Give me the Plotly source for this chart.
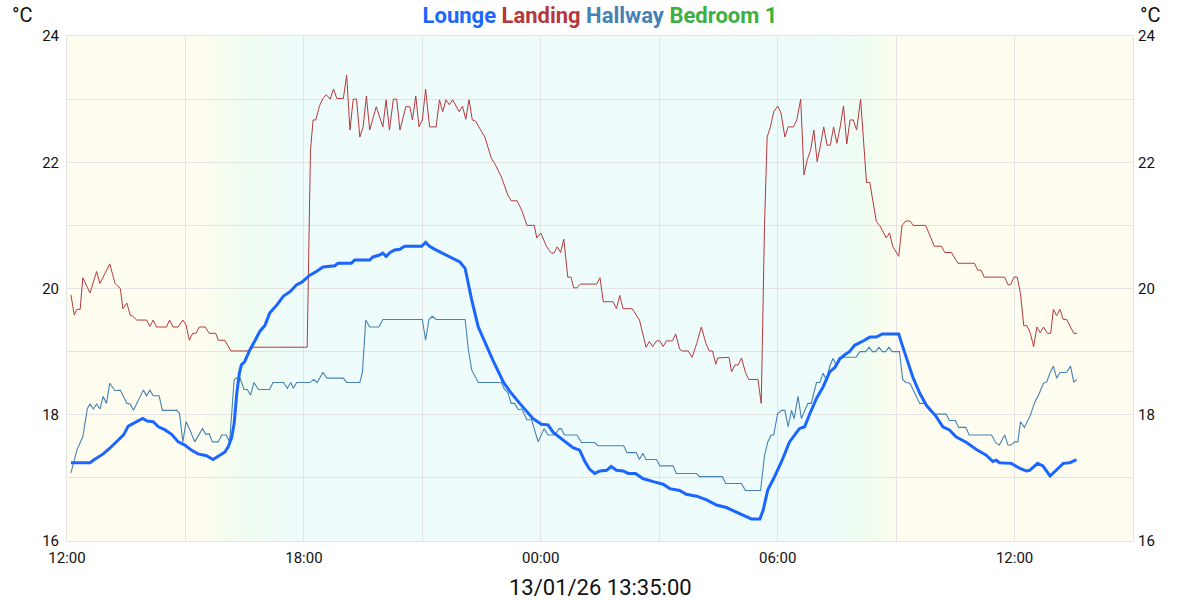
import pandas as pd
import plotly.graph_objects as go

START = pd.Timestamp("2026-01-12 12:00")

# minutes elapsed since START, and temperatures (°C)
landing_min = [6, 11, 15, 20, 24, 35, 45, 50, 65, 73, 81, 85, 91, 96, 100, 106, 121, 126, 131, 136, 151, 156, 161, 169, 176, 181, 186, 191, 196, 201, 210, 216, 226, 230, 240, 249, 278, 283, 365,
               370, 374, 378, 384, 389, 394, 400, 405, 410, 420, 425, 430, 435, 440, 445, 450, 455, 460, 470, 480, 485, 490, 496, 501, 506, 515, 521, 525, 530, 535, 540, 545, 551, 561, 566, 571, 576, 581, 586, 596, 601, 606, 611, 616, 621, 627, 635, 645, 650, 660, 670, 675, 684, 691, 699, 710, 714, 720, 729, 736, 740, 745, 750, 755, 761, 766, 770, 775, 780, 805, 810, 815, 830, 835, 840, 845, 859, 870, 880, 885, 890, 896, 901, 906, 911, 920, 925, 931, 935, 944, 950, 957, 964, 971, 976, 981, 986, 989, 1000, 1006, 1010, 1015, 1020, 1025, 1031, 1036, 1050, 1055,
               1060, 1064, 1069, 1074, 1080, 1085, 1091, 1096, 1104, 1109, 1115, 1120, 1125, 1130, 1135, 1140, 1145, 1150, 1155, 1160, 1165, 1170, 1175, 1180, 1185, 1190, 1195, 1200, 1206, 1215, 1220, 1225, 1230, 1235, 1245, 1250, 1255, 1264, 1269, 1275, 1281, 1286, 1305, 1318, 1329, 1334, 1344, 1354, 1379, 1384, 1389, 1394, 1425, 1430, 1434, 1439, 1444, 1449, 1454, 1459, 1464, 1469, 1474, 1479, 1484, 1490, 1495, 1499, 1504, 1509, 1514, 1519, 1525, 1530, 1535]
landing_val = [19.9, 19.58, 19.67, 19.67, 20.17, 19.93, 20.27, 20.08, 20.39, 20.08, 20.0, 19.68, 19.77, 19.58, 19.56, 19.5, 19.5, 19.4, 19.5, 19.39, 19.39, 19.5, 19.39, 19.39, 19.5, 19.42, 19.18, 19.29, 19.29, 19.39, 19.39, 19.29, 19.29, 19.18, 19.18, 19.01, 19.01, 19.07, 19.07,
               22.19, 22.67, 22.67, 22.9, 23.01, 23.07, 23.0, 23.16, 23.01, 23.01, 23.38, 22.51, 23.0, 23.0, 22.4, 22.56, 23.05, 22.51, 22.88, 22.56, 22.99, 22.51, 23.0, 23.0, 22.51, 22.88, 22.88, 22.67, 23.05, 22.56, 22.67, 23.16, 22.56, 22.56, 22.99, 22.8, 22.99, 22.91, 22.99, 22.8, 22.89, 22.68, 22.99, 22.67, 22.65, 22.54, 22.4, 22.06, 21.98, 21.77, 21.48, 21.39, 21.39, 21.24, 21.0, 21.0, 20.8, 20.88, 20.66, 20.56, 20.56, 20.66, 20.57, 20.78, 20.18, 20.18, 20.01, 20.01, 20.07, 20.07, 20.17, 19.79, 19.79, 19.68, 19.89, 19.68, 19.68, 19.5, 19.07, 19.16, 19.08, 19.17, 19.17, 19.08, 19.17, 19.17, 19.28, 19.04, 19.01, 19.01, 18.91, 19.13, 19.39, 19.13, 19.01, 19.01, 18.8, 18.9, 18.9, 18.91, 18.68, 18.79, 18.79, 18.9, 18.67, 18.56, 18.56, 18.18,
               21.0, 22.4, 22.56, 22.8, 22.89, 22.78, 22.4, 22.56, 22.56, 22.67, 23.0, 21.8, 22.04, 22.19, 22.51, 22.01, 22.27, 22.56, 22.27, 22.27, 22.56, 22.3, 22.56, 22.89, 22.29, 22.67, 22.67, 22.51, 23.0, 21.68, 21.68, 21.35, 21.06, 21.0, 20.8, 20.88, 20.66, 20.51, 21.0, 21.07, 21.07, 21.0, 21.0, 20.67, 20.67, 20.57, 20.57, 20.4, 20.4, 20.29, 20.29, 20.18, 20.18, 20.06, 20.06, 20.18, 20.18, 19.92, 19.41, 19.41, 19.29, 19.08, 19.39, 19.3, 19.39, 19.29, 19.29, 19.67, 19.57, 19.67, 19.51, 19.51, 19.39, 19.29, 19.29]

lounge_min = [6, 35, 40, 48, 55, 65, 75, 86, 93, 101, 108, 115, 122, 131, 139, 149, 159, 169, 179, 189, 199, 212, 222, 232, 240, 245, 250, 254, 258, 262, 265, 270, 278, 286, 293, 301, 308, 319, 329, 339, 349, 357, 369, 379, 389, 407, 412, 432, 437, 460, 465, 475, 480, 485, 491, 498, 506, 513, 539, 545, 551, 559, 567, 577, 587, 597, 605, 615, 625, 638, 647, 663, 673, 688, 708, 721, 731, 739, 749, 759, 769, 779, 787, 794, 802, 810, 820, 827, 835, 845, 853, 864, 875, 891, 906, 916, 931, 941, 957, 972, 987, 1002, 1017, 1032, 1040, 1053, 1058, 1065, 1073, 1086, 1098, 1113, 1121, 1129, 1139, 1149, 1159, 1167, 1174, 1182, 1189, 1197, 1205, 1212, 1220, 1230, 1239, 1264, 1270, 1278, 1286, 1296, 1306, 1321, 1331, 1341, 1351, 1367, 1382, 1397, 1407, 1412, 1417, 1435, 1448, 1458, 1463, 1475, 1483, 1494, 1503, 1514, 1524, 1534]
lounge_val = [17.24, 17.24, 17.28, 17.33, 17.38, 17.47, 17.57, 17.68, 17.82, 17.86, 17.9, 17.94, 17.9, 17.89, 17.81, 17.76, 17.69, 17.57, 17.52, 17.44, 17.38, 17.35, 17.29, 17.36, 17.41, 17.49, 17.63, 17.86, 18.34, 18.66, 18.79, 18.84, 19.03, 19.18, 19.32, 19.42, 19.61, 19.74, 19.88, 19.95, 20.06, 20.1, 20.21, 20.27, 20.34, 20.36, 20.4, 20.4, 20.45, 20.45, 20.5, 20.53, 20.56, 20.51, 20.57, 20.61, 20.62, 20.67, 20.67, 20.73, 20.67, 20.62, 20.58, 20.53, 20.48, 20.42, 20.32, 19.82, 19.39, 19.08, 18.87, 18.52, 18.37, 18.18, 17.94, 17.85, 17.84, 17.72, 17.64, 17.56, 17.48, 17.44, 17.26, 17.14, 17.07, 17.11, 17.12, 17.18, 17.12, 17.11, 17.07, 17.07, 16.99, 16.94, 16.9, 16.83, 16.8, 16.74, 16.71, 16.65, 16.57, 16.53, 16.46, 16.38, 16.35, 16.35, 16.49, 16.81, 16.97, 17.26, 17.57, 17.78, 17.81, 18.02, 18.26, 18.44, 18.68, 18.75, 18.88, 18.95, 19.0, 19.1, 19.14, 19.18, 19.23, 19.23, 19.28, 19.28, 19.08, 18.81, 18.58, 18.34, 18.15, 17.97, 17.81, 17.76, 17.65, 17.56, 17.45, 17.36, 17.26, 17.28, 17.24, 17.23, 17.15, 17.11, 17.12, 17.23, 17.19, 17.03, 17.12, 17.23, 17.24, 17.29]

hallway_min = [6, 15, 24, 31, 35, 40, 45, 50, 55, 60, 65, 73, 81, 91, 96, 101, 116, 121, 126, 131, 140, 145, 167, 171, 176, 181, 188, 194, 206, 211, 216, 221, 230, 235, 242, 247, 250, 254, 257, 263, 269, 274, 279, 284, 291, 308, 313, 329, 335, 340, 344, 349, 369, 375, 380, 389, 395, 420, 425, 445, 449, 454, 460, 474, 480, 540, 545, 550, 555, 561, 605, 610, 615, 625, 660, 665, 670, 675, 680, 686, 691, 699, 706, 716, 725, 731, 741, 748, 751, 756, 775, 782, 802, 807, 846, 851, 865, 870, 875, 880, 896, 901, 921, 926, 957, 961, 996, 1001, 1025, 1031, 1054, 1060, 1065, 1070, 1074, 1080, 1086, 1091, 1096, 1101, 1105, 1111, 1116, 1126, 1131, 1139, 1144, 1149, 1154, 1159, 1164, 1169, 1174, 1199, 1205, 1214, 1219, 1224, 1229, 1234, 1239, 1244, 1249, 1254, 1265, 1270, 1275, 1281, 1296, 1304, 1311, 1318, 1336, 1341, 1350, 1355, 1366, 1371, 1405, 1412, 1417, 1425, 1430, 1435, 1440, 1445, 1449, 1455, 1464, 1470, 1478, 1484, 1489, 1494, 1499, 1504, 1509, 1519, 1525, 1530, 1535]
hallway_val = [17.08, 17.44, 17.65, 18.1, 18.17, 18.09, 18.17, 18.09, 18.29, 18.18, 18.5, 18.38, 18.39, 18.18, 18.17, 18.07, 18.39, 18.3, 18.39, 18.3, 18.3, 18.07, 18.07, 18.02, 17.57, 17.89, 17.73, 17.57, 17.78, 17.69, 17.7, 17.57, 17.57, 17.68, 17.68, 17.57, 17.97, 18.55, 18.58, 18.58, 18.4, 18.4, 18.31, 18.51, 18.4, 18.4, 18.51, 18.51, 18.42, 18.51, 18.42, 18.51, 18.51, 18.56, 18.51, 18.67, 18.58, 18.58, 18.51, 18.51, 18.68, 19.5, 19.39, 19.39, 19.51, 19.51, 19.18, 19.51, 19.56, 19.51, 19.51, 19.03, 18.71, 18.51, 18.51, 18.4, 18.35, 18.18, 18.18, 18.08, 18.09, 17.92, 17.92, 17.57, 17.78, 17.68, 17.68, 17.78, 17.78, 17.68, 17.68, 17.56, 17.56, 17.51, 17.51, 17.4, 17.4, 17.29, 17.39, 17.29, 17.29, 17.19, 17.19, 17.07, 17.07, 17.02, 17.02, 16.91, 16.91, 16.8, 16.8, 17.35, 17.57, 17.68, 17.68, 18.02, 18.07, 18.07, 17.81, 18.07, 17.94, 18.29, 17.94, 18.18, 18.18, 18.51, 18.51, 18.66, 18.55, 18.76, 18.89, 18.79, 18.91, 18.91, 19.0, 19.0, 19.07, 19.0, 19.0, 19.07, 19.0, 19.0, 19.07, 19.0, 19.0, 18.56, 18.51, 18.5, 18.18, 18.18, 18.06, 18.01, 18.01, 17.91, 17.91, 17.8, 17.8, 17.68, 17.68, 17.55, 17.52, 17.68, 17.52, 17.52, 17.57, 17.57, 17.89, 17.8, 17.99, 18.18, 18.35, 18.5, 18.52, 18.67, 18.77, 18.58, 18.67, 18.67, 18.77, 18.52, 18.56]

bedroom_min = []
bedroom_val = []

series_names = ["Lounge", "Landing", "Hallway", "Bedroom 1"]
series_colors = ["#1a66ff", "#b5393c", "#4682b4", "#3cb043"]
timestamp_text = "13/01/26 13:35:00"

X_END = pd.Timestamp("2026-01-13 15:00")


def to_time(mins):
    return START + pd.to_timedelta(mins, unit="min")


fig = go.Figure()
fig.add_trace(go.Scatter(x=to_time(landing_min), y=landing_val, mode="lines",
                         line=dict(color=series_colors[1], width=1), name="Landing"))
fig.add_trace(go.Scatter(x=to_time(hallway_min), y=hallway_val, mode="lines",
                         line=dict(color=series_colors[2], width=1.1), name="Hallway"))
fig.add_trace(go.Scatter(x=to_time(lounge_min), y=lounge_val, mode="lines",
                         line=dict(color=series_colors[0], width=3), name="Lounge"))
fig.add_trace(go.Scatter(x=to_time(bedroom_min), y=bedroom_val, mode="lines",
                         line=dict(color=series_colors[3], width=1), name="Bedroom 1", yaxis="y2"))

# day / night background gradient
YEL = (254, 253, 240)
GRN = (238, 253, 240)
CYA = (238, 252, 252)


def mix(a, b, t):
    return "rgb(%d,%d,%d)" % tuple(round(a[i] + (b[i] - a[i]) * t) for i in range(3))


shapes = []
shapes.append(dict(type="rect", xref="x", yref="paper", x0=START, x1=X_END, y0=0, y1=1,
                   fillcolor="rgb(%d,%d,%d)" % YEL, line=dict(width=0), layer="below"))


def gradient(t0, t_mid, t1, c0, c1, c2, n=24):
    out = []
    a = pd.Timestamp(t0); m = pd.Timestamp(t_mid); b = pd.Timestamp(t1)
    for i in range(n):
        s = a + (m - a) * i / n
        e = a + (m - a) * (i + 1) / n
        out.append(dict(type="rect", xref="x", yref="paper", x0=s, x1=e, y0=0, y1=1,
                        fillcolor=mix(c0, c1, (i + 0.5) / n), line=dict(width=0), layer="below"))
    for i in range(n):
        s = m + (b - m) * i / n
        e = m + (b - m) * (i + 1) / n
        out.append(dict(type="rect", xref="x", yref="paper", x0=s, x1=e, y0=0, y1=1,
                        fillcolor=mix(c1, c2, (i + 0.5) / n), line=dict(width=0), layer="below"))
    return out


shapes += gradient("2026-01-12 15:20", "2026-01-12 16:35", "2026-01-12 17:40", YEL, GRN, CYA)
shapes.append(dict(type="rect", xref="x", yref="paper", x0=pd.Timestamp("2026-01-12 17:40"),
                   x1=pd.Timestamp("2026-01-13 07:20"), y0=0, y1=1,
                   fillcolor="rgb(%d,%d,%d)" % CYA, line=dict(width=0), layer="below"))
shapes += gradient("2026-01-13 07:20", "2026-01-13 08:15", "2026-01-13 09:05", CYA, GRN, YEL)

title_html = " ".join('<span style="color:%s">%s</span>' % (c, n) for n, c in zip(series_names, series_colors))

GRID = "#e4e4e4"
fig.update_layout(
    width=1200, height=600,
    margin=dict(l=67, r=67, t=36, b=59),
    paper_bgcolor="white", plot_bgcolor="white",
    font=dict(family="Roboto", size=15, color="#111"),
    showlegend=False,
    shapes=shapes,
    title=dict(text="<b>" + title_html + "</b>", x=0.5, xanchor="center", y=0.975, yanchor="middle",
               font=dict(family="Roboto", size=22)),
    xaxis=dict(type="date", range=[START, X_END], tick0="2026-01-12 00:00", dtick=6 * 3600 * 1000,
               tickformat="%H:%M", showgrid=True, gridcolor=GRID, gridwidth=1, ticks="",
               minor=dict(dtick=3 * 3600 * 1000, showgrid=True, gridcolor=GRID, gridwidth=1),
               showline=True, linecolor=GRID, mirror=True, zeroline=False, ticklabelstandoff=3,
               fixedrange=True),
    yaxis=dict(range=[16, 24], dtick=2, showgrid=True, gridcolor=GRID, ticks="",
               minor=dict(dtick=1, showgrid=True, gridcolor=GRID),
               showline=True, linecolor=GRID, mirror=True, zeroline=False, ticklabelstandoff=4),
    yaxis2=dict(range=[16, 24], dtick=2, overlaying="y", side="right", showgrid=False, ticks="",
                zeroline=False, showline=False, ticklabelstandoff=4, matches="y"),
    annotations=[
        dict(text="°C", xref="paper", yref="paper", x=-0.042, y=1.042, xanchor="center", yanchor="middle",
             showarrow=False, font=dict(size=20, color="#111")),
        dict(text="°C", xref="paper", yref="paper", x=1.016, y=1.042, xanchor="center", yanchor="middle",
             showarrow=False, font=dict(size=20, color="#111")),
        dict(text=timestamp_text, xref="paper", yref="paper", x=0.5, y=-0.093, xanchor="center",
             yanchor="middle", showarrow=False, font=dict(size=22, color="#111")),
    ],
)

fig.write_html("out.html", config={"displayModeBar": False},
               post_script="document.body.style.margin='0';document.body.style.overflow='hidden';")
